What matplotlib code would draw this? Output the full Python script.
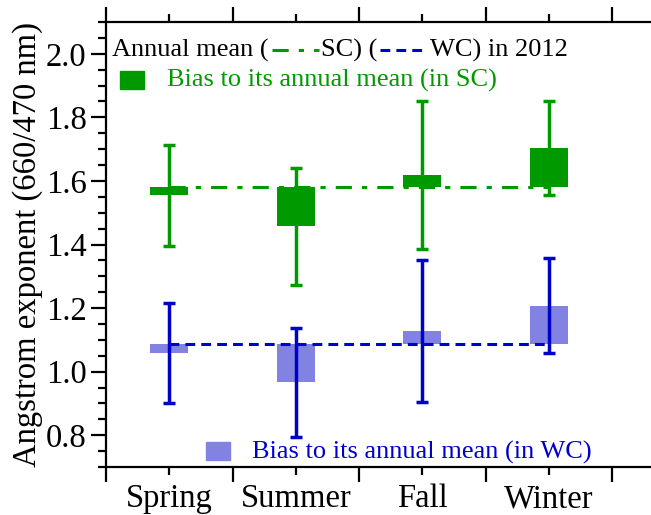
import matplotlib
matplotlib.use("Agg")
import matplotlib.pyplot as plt
from matplotlib.patches import Rectangle
from matplotlib.lines import Line2D
import numpy as np

plt.rcParams['font.family'] = ['Liberation Serif', 'DejaVu Serif']

# Datos
seasons = ["Spring", "Summer", "Fall", "Winter"]
sc_annual = 1.582
wc_annual = 1.088
sc_season = [1.555, 1.457, 1.618, 1.704]
sc_err = [0.159, 0.183, 0.232, 0.148]
wc_season = [1.058, 0.966, 1.127, 1.208]
wc_err = [0.158, 0.172, 0.224, 0.149]

green = '#009900'
blue = '#0000cc'
blue_bar = '#8282e2'
fs = 19        # leyenda
fs_ax = 23.5   # ticks y etiqueta

fig = plt.figure(figsize=(6.51, 5.15), dpi=100)
# el eje se sale por la derecha, como en la imagen original
ax = fig.add_axes([106 / 651, 48 / 515, 557 / 651, 445 / 515])

x = np.arange(len(seasons)) + 0.5
sc_bias = np.array(sc_season) - sc_annual
wc_bias = np.array(wc_season) - wc_annual

ax.bar(x, sc_bias, bottom=sc_annual, width=0.3, color=green, zorder=2)
ax.bar(x, wc_bias, bottom=wc_annual, width=0.3, color=blue_bar, zorder=2)

sc_style = (0, (5.3, 3.3, 1.7, 3.3))
wc_style = (0, (3.2, 2.0))
ax.plot([x[0], x[-1]], [sc_annual, sc_annual], color=green, lw=2.2,
        linestyle=sc_style, zorder=3)
ax.plot([x[0], x[-1]], [wc_annual, wc_annual], color=blue, lw=2.2,
        linestyle=wc_style, zorder=3)

ax.errorbar(x, sc_season, yerr=sc_err, fmt='none', ecolor=green,
            elinewidth=2.5, capsize=4, capthick=2.5, zorder=4)
ax.errorbar(x, wc_season, yerr=wc_err, fmt='none', ecolor=blue,
            elinewidth=2.5, capsize=4, capthick=2.5, zorder=4)

ax.set_xlim(0, 4.4)
ax.set_ylim(0.7, 2.1)
ax.set_xticks(np.arange(0, 5))
ax.set_xticklabels([])
ax.set_xticks(x, seasons, minor=True)
ax.set_yticks(np.arange(0.8, 2.01, 0.2))
ax.set_yticks(np.arange(0.7, 2.101, 0.05), minor=True)
ax.set_yticklabels([f'{v:.1f}' for v in np.arange(0.8, 2.01, 0.2)])

ax.tick_params(axis='both', which='major', direction='out', length=11, width=1.6,
               labelsize=fs_ax, pad=3)
ax.tick_params(axis='both', which='minor', direction='out', length=6, width=1.6,
               labelsize=fs_ax, pad=6)
ax.tick_params(axis='x', which='both', top=True, bottom=True)
ax.tick_params(axis='x', which='minor', pad=6)
for s in ax.spines.values():
    s.set_linewidth(1.6)

ax.set_ylabel('Angstrom exponent (660/470 nm)', fontsize=fs_ax, labelpad=2)

# Leyenda armada a mano (texto + trozos de linea)
fig.canvas.draw()
rend = fig.canvas.get_renderer()
inv = ax.transAxes.inverted()
px_w = 557.0
px_h = 445.0


def put_text(xa, ya, s, color):
    t = ax.text(xa, ya, s, transform=ax.transAxes, fontsize=fs, color=color,
                va='baseline', ha='left')
    bb = t.get_window_extent(renderer=rend)
    return inv.transform((bb.x1, bb.y0))[0]


def put_line(xa, ya, length, color, style):
    ln = Line2D([xa, xa + length], [ya, ya], transform=ax.transAxes, color=color,
                lw=2.2, linestyle=style)
    ax.add_line(ln)
    return xa + length


y0 = (467 - 57) / px_h
ymid = (467 - 50) / px_h
xe = put_text((112 - 106) / px_w, y0, 'Annual mean (', 'black')
xe = put_line(xe + 3 / px_w, ymid, 47 / px_w, green, sc_style)
xe = put_text(xe + 2 / px_w, y0, 'SC) (', 'black')
xe = put_line(xe + 3 / px_w, ymid, 45 / px_w, blue, wc_style)
put_text(xe + 5 / px_w, y0, 'WC) in 2012', 'black')

ax.add_patch(Rectangle(((120 - 106) / px_w, (467 - 89) / px_h), 24 / px_w, 18 / px_h,
                       transform=ax.transAxes, color=green, clip_on=False))
put_text((167 - 106) / px_w, (467 - 87) / px_h, 'Bias to its annual mean (in SC)', green)

ax.add_patch(Rectangle(((206 - 106) / px_w, (467 - 460) / px_h), 24 / px_w, 18 / px_h,
                       transform=ax.transAxes, color=blue_bar, clip_on=False))
put_text((252 - 106) / px_w, (467 - 459) / px_h, 'Bias to its annual mean (in WC)', blue)

fig.savefig('out.png', dpi=100)
